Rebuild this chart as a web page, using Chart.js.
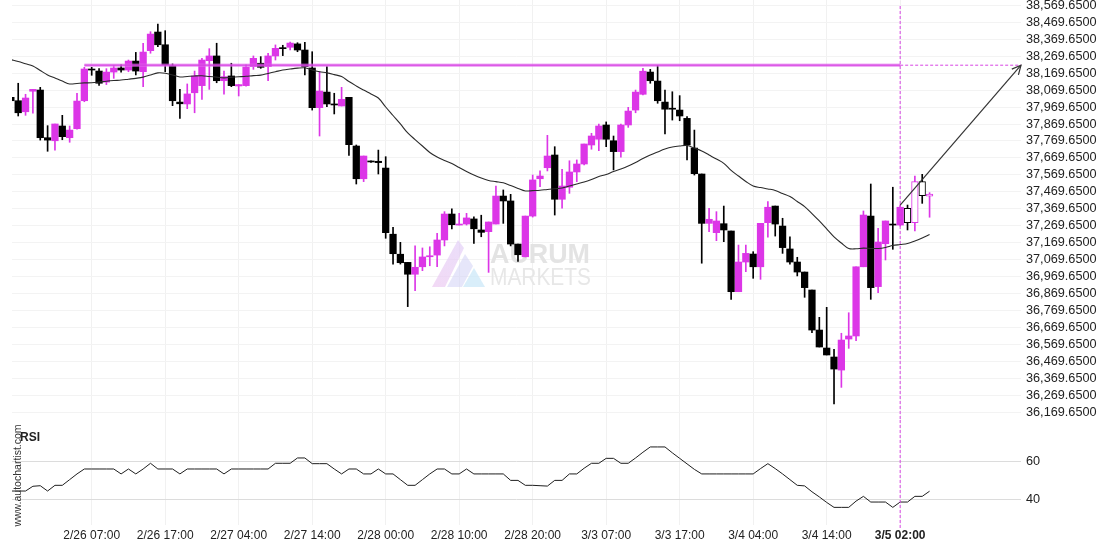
<!DOCTYPE html>
<html>
<head>
<meta charset="utf-8">
<script src="https://cdn.jsdelivr.net/npm/chart.js@4.4.1/dist/chart.umd.min.js"></script>
<style>
  html, body { margin: 0; padding: 0; background: #fff; }
  #wrap { position: relative; width: 1110px; height: 550px; overflow: hidden; }
  .panel { position: absolute; left: 0; width: 1110px; }
</style>
</head>
<body>
<div id="wrap">
  <div class="panel" style="top:0;height:420px"><canvas id="price"></canvas></div>
  <div class="panel" style="top:420px;height:130px"><canvas id="rsi"></canvas></div>
</div>
<script>
// hourly candles, 2/26 .. 3/5
const opens = [
  38027,38007,37942,38063,38070,37789,37771,37858,37789,37842,
  38007,38194,38182,38117,38176,38200,38188,38241,38178,38302,
  38412,38337,38212,37999,37988,38054,38096,38243,38271,38125,
  38153,38094,38096,38208,38228,38208,38271,38320,38322,38342,
  38306,38200,37966,38058,37988,37976,38027,37740,37547,37650,
  37650,37610,37220,37102,37054,36984,37028,37087,37097,37186,
  37339,37274,37280,37310,37245,37235,37280,37445,37416,37162,
  37087,37327,37547,37612,37687,37426,37497,37587,37634,37746,
  37780,37864,37771,37707,37864,37952,38045,38176,38123,37999,
  37962,37952,37903,37728,37575,37284,37229,37282,37239,36881,
  37056,37103,37028,37288,37386,37268,37133,37056,36997,36891,
  36655,36549,36496,36419,36602,36620,37028,37327,36911,37164,
  37280,37274,37373,37288,37530,37444
];
const highs = [
  38035,38110,38045,38074,38086,37860,37870,37921,37858,38051,
  38204,38204,38196,38196,38214,38218,38247,38292,38346,38414,
  38459,38420,38224,38074,38106,38182,38257,38314,38346,38182,
  38228,38102,38218,38271,38267,38287,38336,38334,38353,38349,
  38352,38296,38178,38208,38051,38086,38027,37746,37681,37652,
  37716,37677,37261,37172,37054,37152,37139,37146,37225,37353,
  37369,37343,37343,37323,37332,37292,37504,37481,37455,37162,
  37327,37569,37594,37803,37736,37603,37653,37658,37752,37815,
  37870,37882,37799,37870,37968,38070,38198,38192,38214,38070,
  38060,38037,37913,37834,37575,37373,37353,37386,37239,37156,
  37156,37117,37284,37412,37386,37314,37205,37084,36997,36891,
  36730,36789,36541,36636,36757,37028,37357,37516,37255,37298,
  37497,37392,37392,37563,37573,37465
];
const lows = [
  37999,37917,37921,37933,37775,37709,37716,37777,37762,37839,
  38001,38157,38098,38102,38139,38175,38178,38159,38090,38287,
  38326,38178,37978,37903,37960,37936,38015,38074,38113,38045,
  38090,38035,38093,38192,38198,38125,38247,38273,38306,38296,
  38159,37952,37799,37972,37929,37976,37685,37516,37530,37644,
  37575,37196,37044,37044,36793,36887,37005,37034,37028,37151,
  37251,37274,37274,37166,37205,36995,37280,37284,37151,37060,
  37086,37321,37500,37593,37333,37373,37461,37530,37628,37721,
  37712,37736,37599,37674,37850,37936,38041,38110,37992,37811,
  37893,37889,37658,37569,37049,37235,37182,37176,36836,36881,
  36999,36960,36954,37202,37209,37107,37044,36974,36848,36639,
  36555,36508,36219,36317,36547,36592,37028,36836,36875,37068,
  37131,37268,37245,37239,37402,37320
];
const closes = [
  38007,37936,38023,38074,37789,37775,37870,37795,37834,38005,
  38194,38188,38110,38176,38200,38188,38241,38182,38294,38400,
  38337,38219,38007,37989,38047,38153,38247,38271,38125,38149,
  38096,38102,38206,38257,38204,38271,38316,38314,38347,38306,
  38208,37966,38064,37988,37982,38015,37748,37547,37681,37646,
  37642,37229,37105,37052,36984,37025,37086,37093,37186,37339,
  37276,37280,37316,37252,37231,37292,37445,37416,37162,37099,
  37327,37540,37563,37681,37426,37504,37587,37634,37752,37799,
  37858,37780,37707,37864,37946,38058,38181,38125,38007,37957,
  37957,37917,37746,37577,37284,37308,37298,37245,36881,37056,
  37107,37028,37284,37379,37280,37141,37056,36997,36905,36655,
  36555,36508,36425,36596,36620,37028,37333,36905,37174,37298,
  37274,37379,37288,37530,37447,37457
];
const movingAvg = [
  38250,38238,38225,38212,38185,38159,38141,38123,38106,38109,
  38112,38113,38117,38122,38126,38129,38134,38139,38146,38159,
  38171,38169,38159,38147,38150,38153,38154,38150,38146,38142,
  38145,38148,38151,38155,38158,38168,38178,38188,38194,38199,
  38201,38188,38178,38171,38161,38150,38120,38094,38070,38047,
  38023,37970,37920,37870,37817,37778,37740,37702,37675,37655,
  37637,37613,37590,37569,37551,37537,37530,37523,37507,37490,
  37475,37477,37479,37484,37488,37492,37504,37516,37528,37543,
  37560,37572,37590,37604,37622,37643,37666,37687,37705,37722,
  37734,37740,37743,37728,37711,37687,37663,37638,37596,37563,
  37531,37504,37495,37487,37478,37460,37442,37413,37383,37342,
  37298,37251,37204,37168,37136,37134,37138,37136,37136,37142,
  37153,37159,37165,37180,37198,37218
];
const rsiValues = [
  44.2,44.2,44.2,46.7,47.0,44.2,47.2,47.2,50.2,53.2,
  55.8,55.8,55.8,55.8,55.8,53.2,55.8,53.2,55.8,58.8,
  55.8,55.8,55.8,53.2,55.8,55.8,55.8,55.8,55.8,53.2,
  55.8,55.8,55.8,55.8,55.8,55.8,58.8,58.8,58.8,61.6,
  61.6,58.6,58.6,58.6,55.8,53.2,55.8,55.8,53.2,53.2,
  55.8,53.2,53.2,50.2,47.2,47.2,50.2,53.2,55.8,55.8,
  53.2,53.2,55.8,53.2,53.2,53.2,53.2,53.2,49.8,49.8,
  47.2,47.2,47.0,46.8,49.8,49.8,53.2,53.2,56.2,58.8,
  58.8,61.4,61.4,58.8,58.8,61.6,64.6,67.4,67.4,67.4,
  64.3,61.4,58.5,55.6,53.2,53.2,53.2,53.2,53.2,53.2,
  53.2,53.2,56.0,58.6,56.0,53.2,50.2,47.2,46.9,43.8,
  41.1,38.2,35.6,35.6,35.6,38.9,41.4,38.4,38.4,38.4,
  35.6,38.4,38.4,41.4,41.4,44.1
];
const resistanceLevel = 38216.5;
const resistanceStart = 10;
const signalIndex = 121;

const timeTickIndex = [11, 21, 31, 41, 51, 61, 71, 81, 91, 101, 111, 121];
const timeTickLabels = ['2/26 07:00', '2/26 17:00', '2/27 04:00', '2/27 14:00', '2/28 00:00', '2/28 10:00',
  '2/28 20:00', '3/3 07:00', '3/3 17:00', '3/4 04:00', '3/4 14:00', '3/5 02:00'];
const priceTicks = [38569.65, 38469.65, 38369.65, 38269.65, 38169.65, 38069.65, 37969.65, 37869.65,
  37769.65, 37669.65, 37569.65, 37469.65, 37369.65, 37269.65, 37169.65, 37069.65, 36969.65, 36869.65,
  36769.65, 36669.65, 36569.65, 36469.65, 36369.65, 36269.65, 36169.65];
const rsiTicks = [60, 40];

const BULL = '#dc36e7';
const BEAR = '#000000';
const X_MIN = 0.156, X_MAX = 137.44;
const FONT = '"Liberation Sans", Arial, sans-serif';

Chart.defaults.font.family = FONT;

const idx = opens.map((_, i) => i);
const isBull = i => closes[i] >= opens[i];
const hollow = i => i > signalIndex;
const candleColor = i => isBull(i) ? BULL : BEAR;

const xAxis = {
  type: 'linear', min: X_MIN, max: X_MAX, offset: false,
  afterBuildTicks: s => { s.ticks = timeTickIndex.map(v => ({ value: v })); },
  ticks: { display: false },
  grid: { color: '#f1f1f1', drawTicks: false, offset: false },
  border: { display: false }
};

const priceDecor = {
  id: 'priceDecor',
  beforeDatasetsDraw(chart) {
    const ctx = chart.ctx;
    ctx.save();
    // watermark logo
    let g = ctx.createLinearGradient(433, 287, 462, 240);
    g.addColorStop(0, 'rgba(238,205,242,0.75)');
    g.addColorStop(1, 'rgba(222,200,246,0.6)');
    ctx.fillStyle = g;
    ctx.beginPath();
    ctx.moveTo(432, 287); ctx.lineTo(445, 287); ctx.lineTo(464, 248); ctx.lineTo(458, 240); ctx.closePath();
    ctx.fill();
    ctx.fillStyle = 'rgba(214,214,246,0.6)';
    ctx.beginPath();
    ctx.moveTo(447, 287); ctx.lineTo(462, 287); ctx.lineTo(473, 266); ctx.lineTo(465, 254); ctx.closePath();
    ctx.fill();
    ctx.fillStyle = 'rgba(204,232,248,0.75)';
    ctx.beginPath();
    ctx.moveTo(463, 287); ctx.lineTo(485, 287); ctx.lineTo(474, 268); ctx.closePath();
    ctx.fill();
    ctx.textAlign = 'left';
    ctx.textBaseline = 'alphabetic';
    ctx.fillStyle = '#e3e3e3';
    ctx.font = 'bold 28px ' + FONT;
    ctx.fillText('AURUM', 490, 263, 100);
    ctx.fillStyle = '#e7e7e7';
    ctx.font = '24px ' + FONT;
    ctx.fillText('MARKETS', 490, 285, 101);
    ctx.restore();
  },
  afterDatasetsDraw(chart) {
    const ctx = chart.ctx, xs = chart.scales.x, ys = chart.scales.y, area = chart.chartArea;
    const yr = ys.getPixelForValue(resistanceLevel);
    const xs0 = xs.getPixelForValue(resistanceStart), xs1 = xs.getPixelForValue(signalIndex);
    ctx.save();
    // resistance level
    ctx.strokeStyle = 'rgba(226,110,238,0.55)';
    ctx.lineWidth = 3.5;
    ctx.beginPath(); ctx.moveTo(xs0, yr); ctx.lineTo(xs1, yr); ctx.stroke();
    ctx.strokeStyle = '#d63ee2';
    ctx.lineWidth = 1.3;
    ctx.beginPath(); ctx.moveTo(xs0, yr); ctx.lineTo(xs1, yr); ctx.stroke();
    // dashed projections
    ctx.setLineDash([3, 2]);
    ctx.lineWidth = 1;
    ctx.strokeStyle = '#d845e4';
    ctx.beginPath(); ctx.moveTo(xs1, yr); ctx.lineTo(area.right, yr); ctx.stroke();
    ctx.beginPath(); ctx.moveTo(xs1, 6); ctx.lineTo(xs1, area.bottom); ctx.stroke();
    ctx.setLineDash([]);
    // forecast arrow
    const ax0 = xs1, ay0 = ys.getPixelForValue(highs[signalIndex]);
    const ax1 = area.right, ay1 = yr;
    ctx.strokeStyle = '#333';
    ctx.lineWidth = 1.2;
    ctx.beginPath(); ctx.moveTo(ax0, ay0); ctx.lineTo(ax1, ay1); ctx.stroke();
    const ang = Math.atan2(ay1 - ay0, ax1 - ax0);
    ctx.beginPath();
    ctx.moveTo(ax1 - 10 * Math.cos(ang - 0.45), ay1 - 10 * Math.sin(ang - 0.45));
    ctx.lineTo(ax1, ay1);
    ctx.lineTo(ax1 - 10 * Math.cos(ang + 0.45), ay1 - 10 * Math.sin(ang + 0.45));
    ctx.stroke();
    ctx.restore();
  },
  afterDraw(chart) {
    const ctx = chart.ctx, ys = chart.scales.y;
    ctx.save();
    ctx.fillStyle = '#222';
    ctx.font = '12.7px ' + FONT;
    ctx.textAlign = 'left';
    ctx.textBaseline = 'middle';
    priceTicks.forEach(v => {
      const t = v.toLocaleString('en-US', { minimumFractionDigits: 4, maximumFractionDigits: 4 });
      ctx.fillText(t, chart.chartArea.right + 5, ys.getPixelForValue(v));
    });
    ctx.restore();
  }
};

new Chart(document.getElementById('price'), {
  type: 'bar',
  data: {
    datasets: [
      {
        label: 'wicks',
        data: idx.map(i => ({ x: i, y: [lows[i], highs[i]] })),
        backgroundColor: idx.map(candleColor),
        barThickness: 1,
        grouped: false,
        order: 3
      },
      {
        label: 'bodies',
        data: idx.map(i => ({ x: i, y: [opens[i], closes[i]] })),
        backgroundColor: idx.map(i => hollow(i) ? '#ffffff' : candleColor(i)),
        borderColor: idx.map(candleColor),
        borderWidth: idx.map(i => hollow(i) ? 1 : 0),
        borderSkipped: false,
        barThickness: 6.6,
        minBarLength: 1,
        grouped: false,
        order: 2
      },
      {
        type: 'line',
        label: 'MA',
        data: idx.map(i => ({ x: i, y: movingAvg[i] })),
        borderColor: '#2a2a2a',
        borderWidth: 1.1,
        pointRadius: 0,
        tension: 0.35,
        order: 1
      }
    ]
  },
  options: {
    responsive: true,
    maintainAspectRatio: false,
    animation: false,
    layout: { padding: { left: 12, right: 0, top: 0, bottom: 0 } },
    plugins: { legend: { display: false }, tooltip: { enabled: false } },
    scales: {
      x: xAxis,
      y: {
        position: 'right', min: 36124.6, max: 38600.9,
        afterBuildTicks: s => { s.ticks = priceTicks.map(v => ({ value: v })); },
        afterFit: s => { s.width = 89; },
        ticks: { display: false },
        grid: { color: '#f3f3f3', drawTicks: false },
        border: { display: false }
      }
    }
  },
  plugins: [priceDecor]
});

const rsiDecor = {
  id: 'rsiDecor',
  afterDraw(chart) {
    const ctx = chart.ctx, xs = chart.scales.x, ys = chart.scales.y, area = chart.chartArea;
    ctx.save();
    // signal marker
    const xs1 = xs.getPixelForValue(signalIndex);
    ctx.setLineDash([3, 2]);
    ctx.strokeStyle = '#d845e4';
    ctx.lineWidth = 1;
    ctx.beginPath(); ctx.moveTo(xs1, 0); ctx.lineTo(xs1, 110); ctx.stroke();
    ctx.setLineDash([]);
    // axis labels
    ctx.fillStyle = '#222';
    ctx.textBaseline = 'middle';
    ctx.textAlign = 'left';
    ctx.font = '12.7px ' + FONT;
    rsiTicks.forEach(v => ctx.fillText(String(v), area.right + 5, ys.getPixelForValue(v)));
    ctx.textAlign = 'center';
    timeTickIndex.forEach((v, k) => {
      const last = k === timeTickIndex.length - 1;
      ctx.font = (last ? 'bold ' : '') + '12px ' + FONT;
      ctx.fillText(timeTickLabels[k], xs.getPixelForValue(v), 116);
    });
    // panel title and credit
    ctx.textAlign = 'left';
    ctx.font = 'bold 12px ' + FONT;
    ctx.fillText('RSI', 20, 17.5);
    ctx.translate(18.5, 55.5);
    ctx.rotate(-Math.PI / 2);
    ctx.textAlign = 'center';
    ctx.fillStyle = '#333';
    ctx.font = '10.5px ' + FONT;
    ctx.fillText('www.autochartist.com', 0, 0);
    ctx.restore();
  }
};

new Chart(document.getElementById('rsi'), {
  type: 'line',
  data: {
    datasets: [{
      label: 'RSI',
      data: idx.map(i => ({ x: i, y: rsiValues[i] })),
      borderColor: '#1e1e1e',
      borderWidth: 1,
      pointRadius: 0,
      tension: 0
    }]
  },
  options: {
    responsive: true,
    maintainAspectRatio: false,
    animation: false,
    layout: { padding: { left: 12, right: 0, top: 0, bottom: 25 } },
    plugins: { legend: { display: false }, tooltip: { enabled: false } },
    scales: {
      x: xAxis,
      y: {
        position: 'right', min: 26.32, max: 81.58,
        afterBuildTicks: s => { s.ticks = rsiTicks.map(v => ({ value: v })); },
        afterFit: s => { s.width = 89; },
        ticks: { display: false },
        grid: { color: '#dcdcdc', drawTicks: false },
        border: { display: false }
      }
    }
  },
  plugins: [rsiDecor]
});
</script>
</body>
</html>
